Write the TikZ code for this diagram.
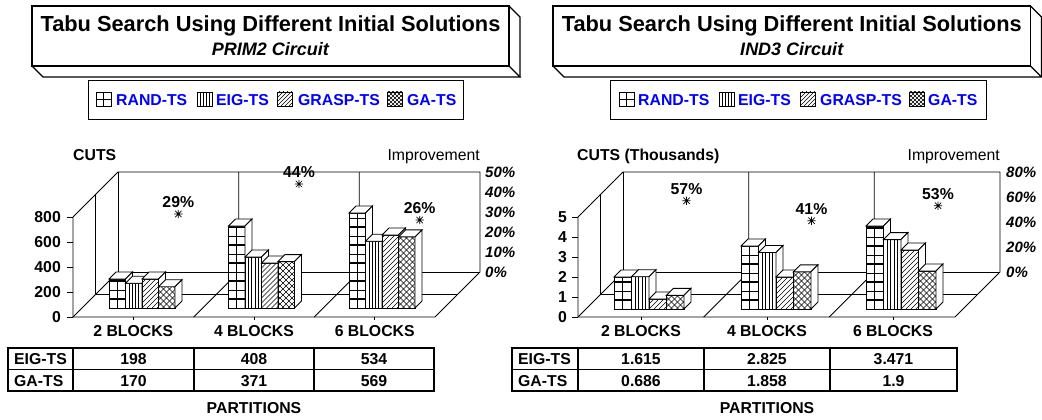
\documentclass[tikz,border=0pt]{standalone}
\usepackage{fontspec}
\setmainfont{Liberation Sans}
\tikzset{
  ax/.style={line width=0.8pt},
  barline/.style={line width=0.9pt},
  pl/.style={line width=0.55pt},
  tb/.style={line width=1.2pt},
  tbl/.style={line width=1.1pt},
  f16/.style={font=\fontsize{15.8}{18}\selectfont\bfseries, inner sep=0pt},
  ttl/.style={font=\fontsize{21.8}{24}\selectfont\bfseries, inner sep=0pt, anchor=base},
  sttl/.style={font=\fontsize{18}{20}\selectfont\bfseries\itshape, inner sep=0pt, anchor=base},
  pct/.style={font=\fontsize{15}{17}\selectfont\bfseries\itshape, inner sep=0pt, anchor=west},
  imp/.style={font=\fontsize{15.8}{18}\selectfont, inner sep=0pt, anchor=base east},
  leg/.style={f16, text=blue, anchor=base west},
  cat/.style={f16, anchor=base},
}
% pattern fillers: #1 x-left, #2 base y, #3 width
\newcommand\patR[3]{%
  \draw[pl] ({#1+#3/2},#2) -- ++(0,-110);
  \foreach \k in {1,3,...,13}{\draw[line width=1.6pt] ({#1-1},{#2-9*\k}) -- ++(25,0);}
  \foreach \k in {2,4,...,12}{\draw[pl] ({#1-1},{#2-9*\k}) -- ++(25,0);}
}
\newcommand\patE[3]{%
  \foreach \i in {1,...,4}{\draw[pl] ({#1+\i*#3/5},#2) -- ++(0,-110);}
}
\newcommand\patG[3]{%
  \foreach \t in {-110,-105,...,25}{\draw[pl] ({#1+\t},#2) -- ++(110,-110);}
}
\newcommand\patA[3]{%
  \foreach \t in {-110,-104,...,25}{\draw[pl] ({#1+\t},#2) -- ++(110,-110);}
  \foreach \t in {0,6,...,140}{\draw[pl] ({#1+\t},#2) -- ++(-110,-110);}
}
% bar: #1 x, #2 base, #3 height, #4 width, #5 type
\newcommand\cbar[5]{%
  \fill[white] (#1,#2) rectangle ({#1+#4},{#2-#3});
  \begin{scope}
    \clip (#1,#2) rectangle ({#1+#4},{#2-#3});
    \csname pat#5\endcsname{#1}{#2}{#4}
  \end{scope}
  \draw[barline] (#1,#2) rectangle ({#1+#4},{#2-#3});
  \draw[barline,fill=white] (#1,{#2-#3}) -- ++(7,-7) -- ++(#4,0) -- ++(-7,7) -- cycle;
  \draw[barline,fill=white] ({#1+#4},#2) -- ++(0,-#3) -- ++(7,-7) -- ++(0,#3) -- cycle;
}
% legend swatch: #1 x, #2 type
\newcommand\swatch[2]{%
  \fill[white] (#1,92) rectangle ({#1+15},106);
  \begin{scope}
    \clip (#1,92) rectangle ({#1+15},106);
    \csname sw#2\endcsname{#1}
  \end{scope}
  \draw[line width=0.8pt] (#1,92) rectangle ({#1+15},106);
}
\newcommand\swR[1]{\draw[pl] ({#1+7.5},92) -- ++(0,14) (#1,99) -- ++(15,0);}
\newcommand\swE[1]{\foreach \i in {1,...,4}{\draw[pl] ({#1+\i*3},92) -- ++(0,14);}}
\newcommand\swG[1]{\foreach \t in {-16,-12,...,16}{\draw[pl] ({#1+\t},106) -- ++(16,-16);}}
\newcommand\swA[1]{\foreach \t in {-16,-12,...,16}{\draw[pl] ({#1+\t},106) -- ++(16,-16);}
  \foreach \t in {0,4,...,32}{\draw[pl] ({#1+\t},106) -- ++(-16,-16);}}
\newcommand\astmark[2]{%
  \draw[line width=0.7pt] ({#1-4.2},#2) -- ({#1+4.2},#2) (#1,{#2-4.2}) -- (#1,{#2+4.2})
    ({#1-3.2},{#2-3.2}) -- ({#1+3.2},{#2+3.2}) ({#1-3.2},{#2+3.2}) -- ({#1+3.2},{#2-3.2});
}
\begin{document}
\begin{tikzpicture}[x=1pt,y=-1pt]
\useasboundingbox (0,0) rectangle (1042,420);
\fill[white] (0,0) rectangle (1042,420);

% ---------- LEFT: titles ----------
\draw[tb] (32,6) rectangle (509,66);
\draw[tb] (32,66) -- (43,77) -- (520,77) -- (509,66);
\draw[tb] (509,6) -- (520,17) -- (520,77);
\node[ttl] (t1) at (270.5,32) {Tabu Search Using Different Initial Solutions};
\node[sttl] (s1) at (270.5,56) {PRIM2 Circuit};
\draw[line width=1pt] (88,81) rectangle (463,119);
\swatch{96}{R} \node[leg] (l1a) at (116,106) {RAND-TS};
\swatch{197}{E} \node[leg] (l1b) at (216,106) {EIG-TS};
\swatch{277}{G} \node[leg] (l1c) at (298,106) {GRASP-TS};
\swatch{387}{A} \node[leg] (l1d) at (407,106) {GA-TS};

% ---------- LEFT: chart frame ----------
\draw[ax] (73,217) -- (118,172) -- (480,172) -- (480,272) -- (435,317) -- (73,317) -- cycle;
\draw[ax] (118,172) -- (118,272) -- (480,272);
\draw[ax] (73,317) -- (118,272);
\draw[ax] (95.5,194.5) -- (95.5,294.5) -- (457.5,294.5);
\draw[ax] (238.7,172) -- (238.7,272) -- (193.7,317);
\draw[ax] (359.3,172) -- (359.3,272) -- (314.3,317);
\foreach \v/\y in {0/317,200/292,400/267,600/242,800/217}{
  \draw[ax] (67,\y) -- (73,\y);
  \node[f16,anchor=east] (ly\v) at (61,\y) {\v};
}
\foreach \x in {133.3,254,374.7}{\draw[ax] (\x,317) -- (\x,320);}
\foreach \p/\y in {0/272,10/252,20/232,30/212,40/192,50/172}{
  \node[pct] (lp\p) at (485,\y) {\p\%};
}
\node[f16,anchor=base west] (cuts1) at (73,160.5) {CUTS};
\node[imp] (imp1) at (480,160.5) {Improvement};

% bars left (base 308, 0.125 px per cut)
\cbar{109}{308}{29}{16.5}{R}
\cbar{125.5}{308}{24.75}{16.5}{E}
\cbar{142}{308}{29}{16.5}{G}
\cbar{158.5}{308}{21.25}{16.5}{A}
\cbar{228.5}{308}{82}{16.5}{R}
\cbar{245}{308}{51}{16.5}{E}
\cbar{261.5}{308}{45}{16.5}{G}
\cbar{278}{308}{46.4}{16.5}{A}
\cbar{349}{308}{95}{16.5}{R}
\cbar{365.5}{308}{66.75}{16.5}{E}
\cbar{382}{308}{73}{16.5}{G}
\cbar{398.5}{308}{71.1}{16.5}{A}

\astmark{178.3}{214} \node[f16,anchor=base] (m1a) at (178.3,207.5) {29\%};
\astmark{299}{184} \node[f16,anchor=base] (m1b) at (299,177.5) {44\%};
\astmark{419.7}{220} \node[f16,anchor=base] (m1c) at (419.7,213.5) {26\%};

\node[cat] (c1a) at (133.3,336.5) {2 BLOCKS};
\node[cat] (c1b) at (254,336.5) {4 BLOCKS};
\node[cat] (c1c) at (374.7,336.5) {6 BLOCKS};

% table left
\draw[tbl] (8,348) rectangle (434,391);
\draw[tbl] (8,369.5) -- (434,369.5);
\foreach \x in {73,194,314}{\draw[tbl] (\x,348) -- (\x,391);}
\node[f16,anchor=base west] (r1a) at (14,364.5) {EIG-TS};
\node[f16,anchor=base west] (r1b) at (14,386) {GA-TS};
\node[cat] (d1a) at (133.5,364.5) {198};
\node[cat] (d1b) at (254,364.5) {408};
\node[cat] (d1c) at (374,364.5) {534};
\node[cat] (d1d) at (133.5,386) {170};
\node[cat] (d1e) at (254,386) {371};
\node[cat] (d1f) at (374,386) {569};
\node[cat] (x1) at (254,413.5) {PARTITIONS};

% ---------- RIGHT: titles ----------
\draw[tb] (553,6) rectangle (1030.5,66);
\draw[tb] (553,66) -- (564,77) -- (1041.5,77) -- (1030.5,66);
\draw[tb] (1030.5,6) -- (1041.5,17) -- (1041.5,77);
\node[ttl] (t2) at (791.75,32) {Tabu Search Using Different Initial Solutions};
\node[sttl] (s2) at (791.75,56) {IND3 Circuit};
\draw[line width=1pt] (610,81) rectangle (986,119);
\swatch{619}{R} \node[leg] (l2a) at (638,106) {RAND-TS};
\swatch{719}{E} \node[leg] (l2b) at (738,106) {EIG-TS};
\swatch{800}{G} \node[leg] (l2c) at (820,106) {GRASP-TS};
\swatch{909}{A} \node[leg] (l2d) at (928,106) {GA-TS};

% ---------- RIGHT: chart frame ----------
\draw[ax] (578,217) -- (623,172) -- (1000,172) -- (1000,272) -- (955,317) -- (578,317) -- cycle;
\draw[ax] (623,172) -- (623,272) -- (1000,272);
\draw[ax] (578,317) -- (623,272);
\draw[ax] (600.5,194.5) -- (600.5,294.5) -- (977.5,294.5);
\draw[ax] (748.7,172) -- (748.7,272) -- (703.7,317);
\draw[ax] (874.3,172) -- (874.3,272) -- (829.3,317);
\foreach \v/\y in {0/317,1/297,2/277,3/257,4/237,5/217}{
  \draw[ax] (572,\y) -- (578,\y);
  \node[f16,anchor=east] (ry\v) at (567,\y) {\v};
}
\foreach \x in {641,767,893}{\draw[ax] (\x,317) -- (\x,320);}
\foreach \p/\y in {0/272,20/247,40/222,60/197,80/172}{
  \node[pct] (rp\p) at (1006,\y) {\p\%};
}
\node[f16,anchor=base west] (cuts2) at (577,160.5) {CUTS (Thousands)};
\node[imp] (imp2) at (1000,160.5) {Improvement};

% bars right (base 309, 20 px per thousand)
\cbar{614}{309}{32}{17.5}{R}
\cbar{631.5}{309}{32.3}{17.5}{E}
\cbar{649}{309}{10}{17.5}{G}
\cbar{666.5}{309}{13.7}{17.5}{A}
\cbar{741}{309}{63}{17.5}{R}
\cbar{758.5}{309}{56.5}{17.5}{E}
\cbar{776}{309}{32}{17.5}{G}
\cbar{793.5}{309}{37.2}{17.5}{A}
\cbar{866}{309}{83}{17.5}{R}
\cbar{883.5}{309}{69.4}{17.5}{E}
\cbar{901}{309}{59}{17.5}{G}
\cbar{918.5}{309}{38}{17.5}{A}

\astmark{686.5}{200.75} \node[f16,anchor=base] (m2a) at (686.5,194.5) {57\%};
\astmark{811.5}{220.75} \node[f16,anchor=base] (m2b) at (811.5,214.5) {41\%};
\astmark{938}{205.75} \node[f16,anchor=base] (m2c) at (938,199.5) {53\%};

\node[cat] (c2a) at (641,336.5) {2 BLOCKS};
\node[cat] (c2b) at (767,336.5) {4 BLOCKS};
\node[cat] (c2c) at (893,336.5) {6 BLOCKS};

% table right
\draw[tbl] (512,348) rectangle (957,391);
\draw[tbl] (512,369.5) -- (957,369.5);
\foreach \x in {578,704,830}{\draw[tbl] (\x,348) -- (\x,391);}
\node[f16,anchor=base west] (r2a) at (518,364.5) {EIG-TS};
\node[f16,anchor=base west] (r2b) at (518,386) {GA-TS};
\node[cat] (d2a) at (641,364.5) {1.615};
\node[cat] (d2b) at (767,364.5) {2.825};
\node[cat] (d2c) at (893.5,364.5) {3.471};
\node[cat] (d2d) at (641,386) {0.686};
\node[cat] (d2e) at (767,386) {1.858};
\node[cat] (d2f) at (893.5,386) {1.9};
\node[cat] (x2) at (767,413.5) {PARTITIONS};
\end{tikzpicture}
\end{document}
